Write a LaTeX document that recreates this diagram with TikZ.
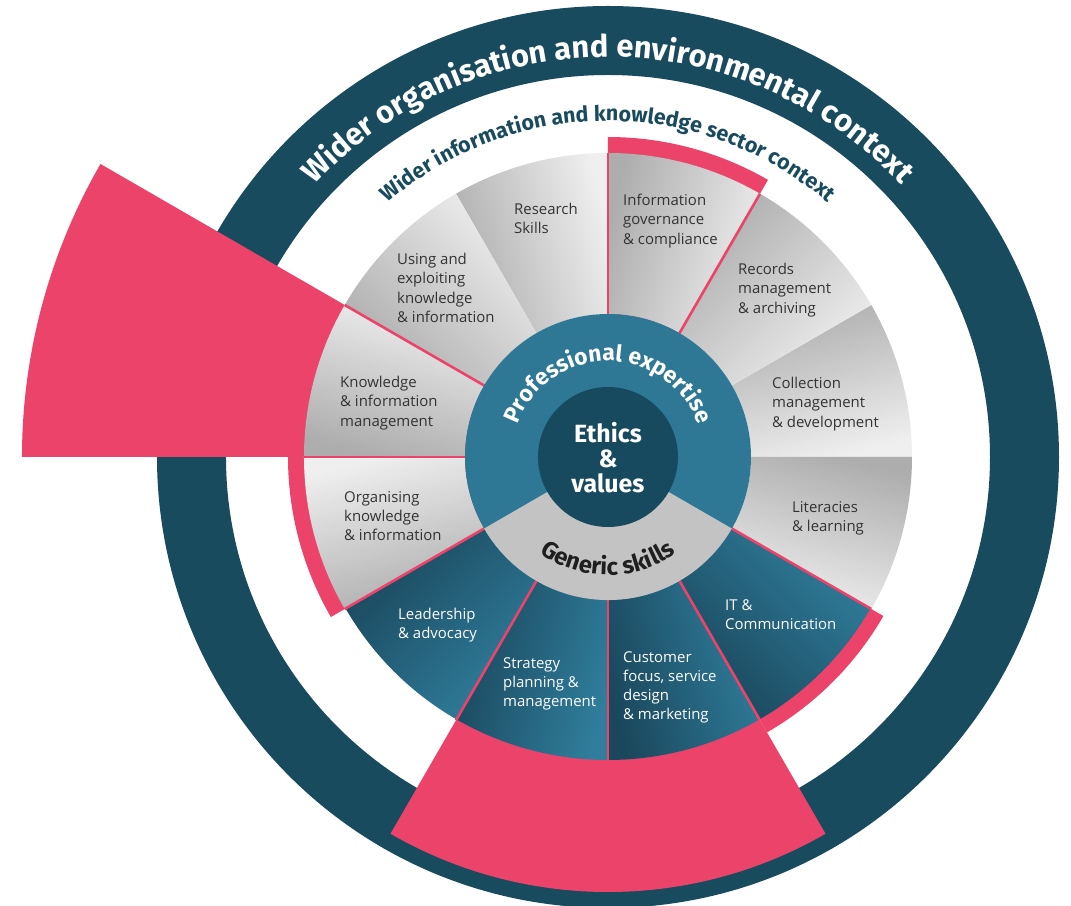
\documentclass[tikz,border=0pt]{standalone}
\usepackage{fontspec}
\setmainfont{Open Sans}
\newfontfamily\headfont{Fira Sans}
\usetikzlibrary{decorations.text}
\definecolor{ringdark}{HTML}{194B5F}
\definecolor{pinkc}{HTML}{EC436A}
\definecolor{tealc}{HTML}{2E7896}
\definecolor{coredark}{HTML}{174A5E}
\definecolor{genericgray}{HTML}{C3C3C3}
\definecolor{graydark}{HTML}{ADADAD}
\definecolor{graylight}{HTML}{EFEFEF}
\definecolor{segdark}{HTML}{1A475C}
\definecolor{seglight}{HTML}{307E9C}
\definecolor{txtgray}{HTML}{333333}
\begin{document}
\begin{tikzpicture}[x=1bp,y=1bp,
  lbl/.style={anchor=north west, inner sep=0pt, align=left, font=\fontsize{15}{19.3}\selectfont},
  lblg/.style={lbl, text=txtgray},
  lblw/.style={lbl, text=white},
  pinkline/.style={draw=pinkc, line width=2.6bp},
  pinkfill/.style={fill=pinkc},
  grayseg/.style={top color=graydark, bottom color=graylight},
  darkseg/.style={top color=seglight, bottom color=segdark},
  arctext/.style={decorate, decoration={text along path, text align=center, text={#1}}}
]
\fill[white] (-608,-449) rectangle (463,457);
\useasboundingbox (-608,-449) rectangle (463,457);
% outer context ring
\fill[ringdark, even odd rule] (0,0) circle[radius=451bp] (0,0) circle[radius=382bp];
% pink highlight wedges and bands
\fill[pinkfill] (0,0) -- (150:586bp) arc[start angle=150, end angle=180, radius=586bp] -- cycle;
\fill[pinkfill] (0,0) -- (240:435bp) arc[start angle=240, end angle=300, radius=435bp] -- cycle;
\fill[pinkfill] (0,0) -- (180:320bp) arc[start angle=180, end angle=210, radius=320bp] -- cycle;
\fill[pinkfill] (0,0) -- (60:320bp) arc[start angle=60, end angle=90, radius=320bp] -- cycle;
\fill[pinkfill] (0,0) -- (300:318bp) arc[start angle=300, end angle=330, radius=318bp] -- cycle;
% grey segments
\foreach \a in {0,30,60,90,120,150,180,330}{
  \pgfmathsetmacro{\m}{\a+15}
  \pgfmathsetmacro{\b}{\a+30}
  \path[grayseg, shading angle=\m]
    (\a:143bp) -- (\a:304bp) arc[start angle=\a, end angle=\b, radius=304bp]
    -- (\b:143bp) arc[start angle=\b, end angle=\a, radius=143bp] -- cycle;
}
% dark segments
\foreach \a in {210,240,270,300}{
  \pgfmathsetmacro{\m}{\a+15}
  \pgfmathsetmacro{\b}{\a+30}
  \path[darkseg, shading angle=\m]
    (\a:143bp) -- (\a:303bp) arc[start angle=\a, end angle=\b, radius=303bp]
    -- (\b:143bp) arc[start angle=\b, end angle=\a, radius=143bp] -- cycle;
}
% pink separators
\foreach \a in {60,90,150,180,210,240,270,300,330}{
  \draw[pinkline] (\a:140bp) -- (\a:304bp);
}
% centre
\fill[tealc] (0,0) circle[radius=143bp];
\fill[genericgray] (0,0) -- (210:143bp) arc[start angle=210, end angle=330, radius=143bp] -- cycle;
\fill[coredark] (0,0) circle[radius=70bp];
% curved texts
\path[arctext={|\headfont\bfseries\fontsize{31}{31}\selectfont\color{white}|Wider organisation and environmental context}]
  (170:400bp) arc[start angle=170, end angle=10, radius=400bp];
\path[arctext={|\headfont\bfseries\fontsize{21.5}{21.5}\selectfont\color{ringdark}|Wider information and knowledge sector context}]
  (170:336bp) arc[start angle=170, end angle=10, radius=336bp];
\path[arctext={|\headfont\bfseries\fontsize{23}{23}\selectfont\color{white}|Professional expertise}]
  (180:96bp) arc[start angle=180, end angle=0, radius=96bp];
\path[arctext={|\headfont\bfseries\fontsize{24}{24}\selectfont\color{black!88}|Generic skills}]
  (200:118bp) arc[start angle=200, end angle=340, radius=118bp];
\node[font=\headfont\bfseries\fontsize{25}{25}\selectfont, text=white, align=center] (ethics) at (0,-1) {Ethics\\\&\\values};
% segment labels
\node[lblg] (research) at (-94,254) {Research\\Skills};
\node[lblg] (infogov) at (15,263) {Information\\governance\\\& compliance};
\node[lblg] (records) at (130,194) {Records\\management\\\& archiving};
\node[lblg] (collection) at (164,80) {Collection\\management\\\& development};
\node[lblg] (literacies) at (184,-44) {Literacies\\\& learning};
\node[lblw] (itcomm) at (117,-142) {IT \&\\Communication};
\node[lblw] (customer) at (15,-194) {Customer\\focus, service\\design\\\& marketing};
\node[lblw] (strategy) at (-105,-200) {Strategy\\planning \&\\management};
\node[lblw] (leadership) at (-210,-151) {Leadership\\\& advocacy};
\node[lblg] (organising) at (-264,-34) {Organising\\knowledge\\\& information};
\node[lblg] (knowledge) at (-268,81) {Knowledge\\\& information\\management};
\node[lblg] (using) at (-211,204) {Using and\\exploiting\\knowledge\\\& information};
\end{tikzpicture}
\end{document}
